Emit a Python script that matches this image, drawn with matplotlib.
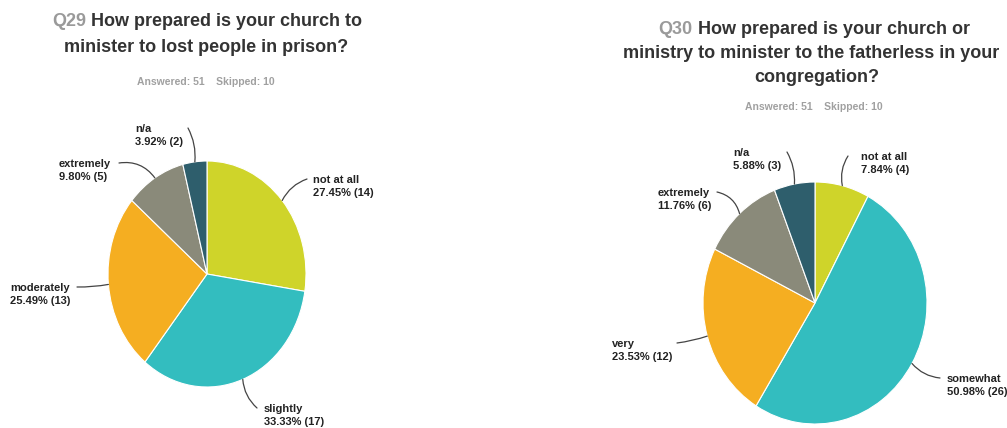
import numpy as np
import matplotlib
matplotlib.use("Agg")
import matplotlib.pyplot as plt

plt.rcParams['font.family'] = ['Liberation Sans', 'DejaVu Sans']

W, H = 1007, 428

# Q29 data
q29_labels = ["not at all", "slightly", "moderately", "extremely", "n/a"]
q29_counts = [14, 17, 13, 5, 2]
# Q30 data
q30_labels = ["not at all", "somewhat", "very", "extremely", "n/a"]
q30_counts = [4, 26, 12, 6, 3]

answered = [51, 51]
skipped = [10, 10]

colors = ["#cfd42a", "#33bdbf", "#f5ae21", "#8a8a7a", "#2e5e6c"]

fig = plt.figure(figsize=(W / 100, H / 100), dpi=100)
fig.patch.set_facecolor("white")
renderer = fig.canvas.get_renderer()


def fx(x):
    return x / W


def fy(y):
    return (H - y) / H


def title_line(xc, y, qnum, rest, size=13):
    full = fig.text(0, 0, qnum + " " + rest, fontsize=size, fontweight="bold")
    a = fig.text(0, 0, qnum, fontsize=size, fontweight="bold")
    b = fig.text(0, 0, rest, fontsize=size, fontweight="bold")
    wf = full.get_window_extent(renderer).width
    wb = b.get_window_extent(renderer).width
    full.remove()
    x0 = xc - wf / 2
    a.set_position((fx(x0), fy(y)))
    a.set_color("#9a9a9a")
    a.set_va("center")
    b.set_position((fx(x0 + wf - wb), fy(y)))
    b.set_color("#333333")
    b.set_va("center")


def plain_line(xc, y, s, size=13):
    fig.text(fx(xc), fy(y), s, fontsize=size, fontweight="bold", color="#333333",
             ha="center", va="center")


def draw_pie(box, counts, labels, label_pos, rads):
    left, top, right, bottom = box
    ax = fig.add_axes([fx(left), fy(bottom), fx(right - left), (bottom - top) / H])
    wedges, _ = ax.pie(counts, colors=colors, startangle=90, counterclock=False,
                       wedgeprops=dict(edgecolor="white", linewidth=0.8))
    ax.set_aspect("auto")
    ax.set_xlim(-1, 1)
    ax.set_ylim(-1, 1)
    ax.axis("off")
    total = sum(counts)
    for w, lab, n, (ex, ey, tx), rad in zip(wedges, labels, counts, label_pos, rads):
        mid = np.deg2rad((w.theta1 + w.theta2) / 2)
        anchor = (np.cos(mid), np.sin(mid))
        # leader line from the label to the middle of the slice's rim
        ax.annotate("", xy=anchor, xycoords="data",
                    xytext=(ex, H - ey), textcoords="figure pixels",
                    arrowprops=dict(arrowstyle="-", color="#444444", lw=0.9,
                                    shrinkA=0, shrinkB=0,
                                    connectionstyle=f"arc3,rad={rad}"))
        txt = f"{lab}\n{n / total * 100:.2f}% ({n})"
        fig.text(fx(tx), fy(ey + 7.5), txt, fontsize=8, fontweight="bold",
                 color="#222222", ha="left", va="center", linespacing=1.35)


# Q29
title_line(207, 22, "Q29", "How prepared is your church to")
plain_line(206, 47, "minister to lost people in prison?")
fig.text(fx(206), fy(82), f"Answered: {answered[0]}    Skipped: {skipped[0]}",
         fontsize=7.5, fontweight="bold", color="#a0a0a0", ha="center", va="center")

q29_pos = [(307, 179, 313), (257, 408, 264), (77, 287, 10),
           (119, 163, 59), (188, 128, 135)]
q29_rads = [0.2, -0.2, 0.05, -0.3, -0.15]
draw_pie((108, 161, 306, 387), q29_counts, q29_labels, q29_pos, q29_rads)

# Q30
title_line(814, 29, "Q30", "How prepared is your church or")
plain_line(811, 53, "ministry to minister to the fatherless in your")
plain_line(817, 77, "congregation?")
fig.text(fx(814), fy(107), f"Answered: {answered[1]}    Skipped: {skipped[1]}",
         fontsize=7.5, fontweight="bold", color="#a0a0a0", ha="center", va="center")

q30_pos = [(848, 156, 861), (940, 378, 947), (677, 343, 612),
           (717, 192, 658), (787, 152, 733)]
q30_rads = [0.2, -0.2, 0.05, -0.3, -0.15]
draw_pie((703, 182, 927, 424), q30_counts, q30_labels, q30_pos, q30_rads)

fig.savefig("out.png", dpi=100)
